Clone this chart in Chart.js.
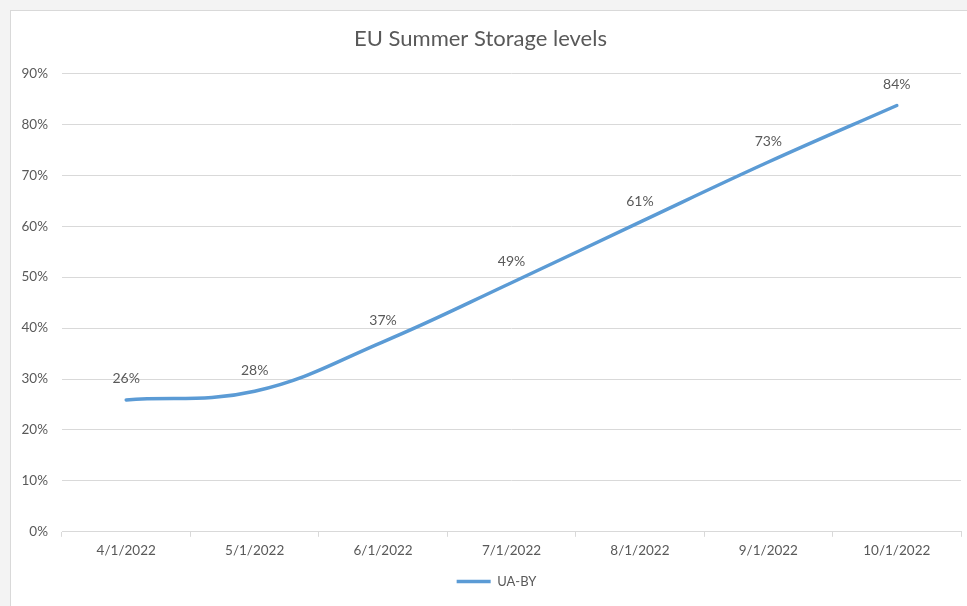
<!DOCTYPE html>
<html>
<head>
<meta charset="utf-8">
<script src="https://cdn.jsdelivr.net/npm/chart.js@4"></script>
<style>
  html, body { margin: 0; padding: 0; background: #f3f3f3; overflow: hidden; }
  #frame { position: absolute; left: 10px; top: 10px; width: 1000px; height: 700px; background: #fff; border: 1px solid #d9d9d9; }
  #wrap { position: absolute; left: 0; top: 0; width: 967px; height: 606px; }
</style>
</head>
<body>
<div id="frame"></div>
<div id="wrap"><canvas id="storageChart"></canvas></div>
<script>
// data
const months = ['4/1/2022', '5/1/2022', '6/1/2022', '7/1/2022', '8/1/2022', '9/1/2022', '10/1/2022'];
const uaBy = [25.9, 27.6, 37.3, 48.9, 60.8, 72.6, 83.7];
const labels = ['26%', '28%', '37%', '49%', '61%', '73%', '84%'];

const grey = '#595959';
const font = "Lato, 'Open Sans', sans-serif";

// draws the value labels above each point
const valueLabels = {
  id: 'valueLabels',
  afterLayout(chart) {
    // legend sits a little right of centre in the original
    chart.legend.left += 16;
    chart.legend.right += 16;
  },
  afterDatasetsDraw(chart) {
    const ctx = chart.ctx;
    const meta = chart.getDatasetMeta(0);
    ctx.save();
    ctx.font = '14px ' + font;
    ctx.fillStyle = grey;
    ctx.textAlign = 'center';
    ctx.textBaseline = 'middle';
    meta.data.forEach((pt, i) => {
      ctx.fillText(labels[i], pt.x, pt.y - 21);
    });
    ctx.restore();
  }
};

var ctx = document.getElementById('storageChart');

var storageChart = new Chart(ctx, {
  type: 'line',
  data: {
    labels: months,
    datasets: [
      {
        label: 'UA-BY',
        data: uaBy,
        borderColor: '#5b9bd5',
        backgroundColor: '#5b9bd5',
        borderWidth: 3.5,
        borderCapStyle: 'round',
        pointRadius: 0,
        tension: 0.4
      }
    ]
  },
  options: {
    responsive: true,
    maintainAspectRatio: false,
    animation: false,
    layout: { padding: { left: 0, right: 6, top: 26, bottom: 8 } },
    plugins: {
      title: {
        display: true,
        text: 'EU Summer Storage levels',
        color: grey,
        font: { family: font, size: 22, weight: 'normal' },
        padding: { top: 0, bottom: 21 }
      },
      legend: {
        position: 'bottom',
        labels: {
          color: grey,
          font: { family: font, size: 13 },
          boxWidth: 34,
          boxHeight: 0,
          padding: 10
        }
      },
      tooltip: { enabled: false }
    },
    scales: {
      x: {
        offset: true,
        grid: { offset: true, drawOnChartArea: false, drawTicks: true, tickLength: 5, color: '#d9d9d9' },
        border: { color: '#d9d9d9', width: 1 },
        ticks: { color: grey, font: { family: font, size: 13.5 }, padding: 6, maxRotation: 0 }
      },
      y: {
        min: 0,
        max: 90,
        afterFit: s => { s.width = 62; },
        grid: { color: '#d9d9d9', drawTicks: false },
        border: { display: false },
        ticks: {
          stepSize: 10,
          color: grey,
          padding: 14,
          font: { family: font, size: 13.5 },
          callback: v => v + '%'
        }
      }
    }
  },
  plugins: [valueLabels]
});
</script>
</body>
</html>
